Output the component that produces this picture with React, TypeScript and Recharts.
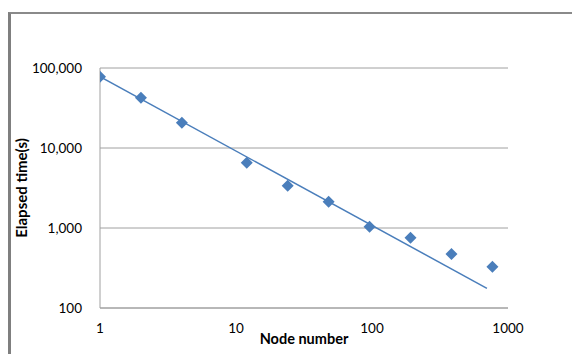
import React from "react";
import {
  ScatterChart,
  Scatter,
  XAxis,
  YAxis,
  CartesianGrid,
  Label,
} from "recharts";

const nodes = [1, 2, 4, 12, 24, 48, 96, 192, 384, 768];
const elapsed = [78000, 42500, 20700, 6550, 3380, 2130, 1040, 756, 473, 328];
const trendNodes = [1, 700];
const trendElapsed = [78000, 176];
const xTicks = [1, 10, 100, 1000];
const yTicks = [100, 1000, 10000, 100000];

const points = nodes.map((n, i) => ({ x: n, y: elapsed[i] }));
const trend = trendNodes.map((n, i) => ({ x: n, y: trendElapsed[i] }));

const blue = "#4A7EBB";
const grid = "#A0A0A0";

const Diamond = (props: any) => {
  const { cx, cy } = props;
  const r = 6;
  return (
    <path
      d={`M${cx},${cy - r}L${cx + r},${cy}L${cx},${cy + r}L${cx - r},${cy}Z`}
      fill={blue}
    />
  );
};

const fmt = (v: number) => v.toLocaleString("en-US");

const App = () => {
  return (
    <div style={{ position: "relative", width: 572, height: 346 }}>
      <div
        style={{
          position: "absolute",
          left: 0,
          top: 4,
          width: 572,
          height: 342,
          borderLeft: "3px solid #7f7f7f",
          borderTop: "2px solid #8a8a8a",
          boxSizing: "border-box",
        }}
      />
      <ScatterChart
        width={572}
        height={346}
        margin={{ top: 60, right: 72, bottom: 16, left: 0 }}
        style={{ position: "absolute", left: 0, top: 0, fontFamily: "Lato, sans-serif" }}
      >
        <CartesianGrid vertical={false} stroke={grid} strokeWidth={1} />
        <XAxis
          type="number"
          dataKey="x"
          scale="log"
          domain={[1, 1000]}
          ticks={xTicks}
          allowDataOverflow
          axisLine={{ stroke: grid }}
          tickLine={false}
          tickSize={6}
          tickMargin={9}
          height={30}
          tick={{ fill: "#000", fontSize: 13.5 }}
        >
          <Label
            value="Node number"
            position="bottom"
            offset={-4}
            style={{ fontWeight: 700, fontSize: 14.5, fill: "#000" }}
          />
        </XAxis>
        <YAxis
          type="number"
          dataKey="y"
          scale="log"
          domain={[100, 100000]}
          ticks={yTicks}
          allowDataOverflow
          axisLine={{ stroke: grid }}
          tickLine={false}
          tickSize={6}
          tickMargin={12}
          width={92}
          tickFormatter={fmt}
          tick={{ fill: "#000", fontSize: 13.5 }}
        >
          <Label
            value="Elapsed time(s)"
            angle={-90}
            position="insideLeft"
            offset={14}
            style={{ fontWeight: 700, fontSize: 15, fill: "#000", textAnchor: "middle" }}
          />
        </YAxis>
        <Scatter
          data={trend}
          line={{ stroke: blue, strokeWidth: 1.5 }}
          shape={() => null}
          isAnimationActive={false}
        />
        <Scatter data={points} shape={Diamond} fill={blue} isAnimationActive={false} />
      </ScatterChart>
    </div>
  );
};

export default App;
